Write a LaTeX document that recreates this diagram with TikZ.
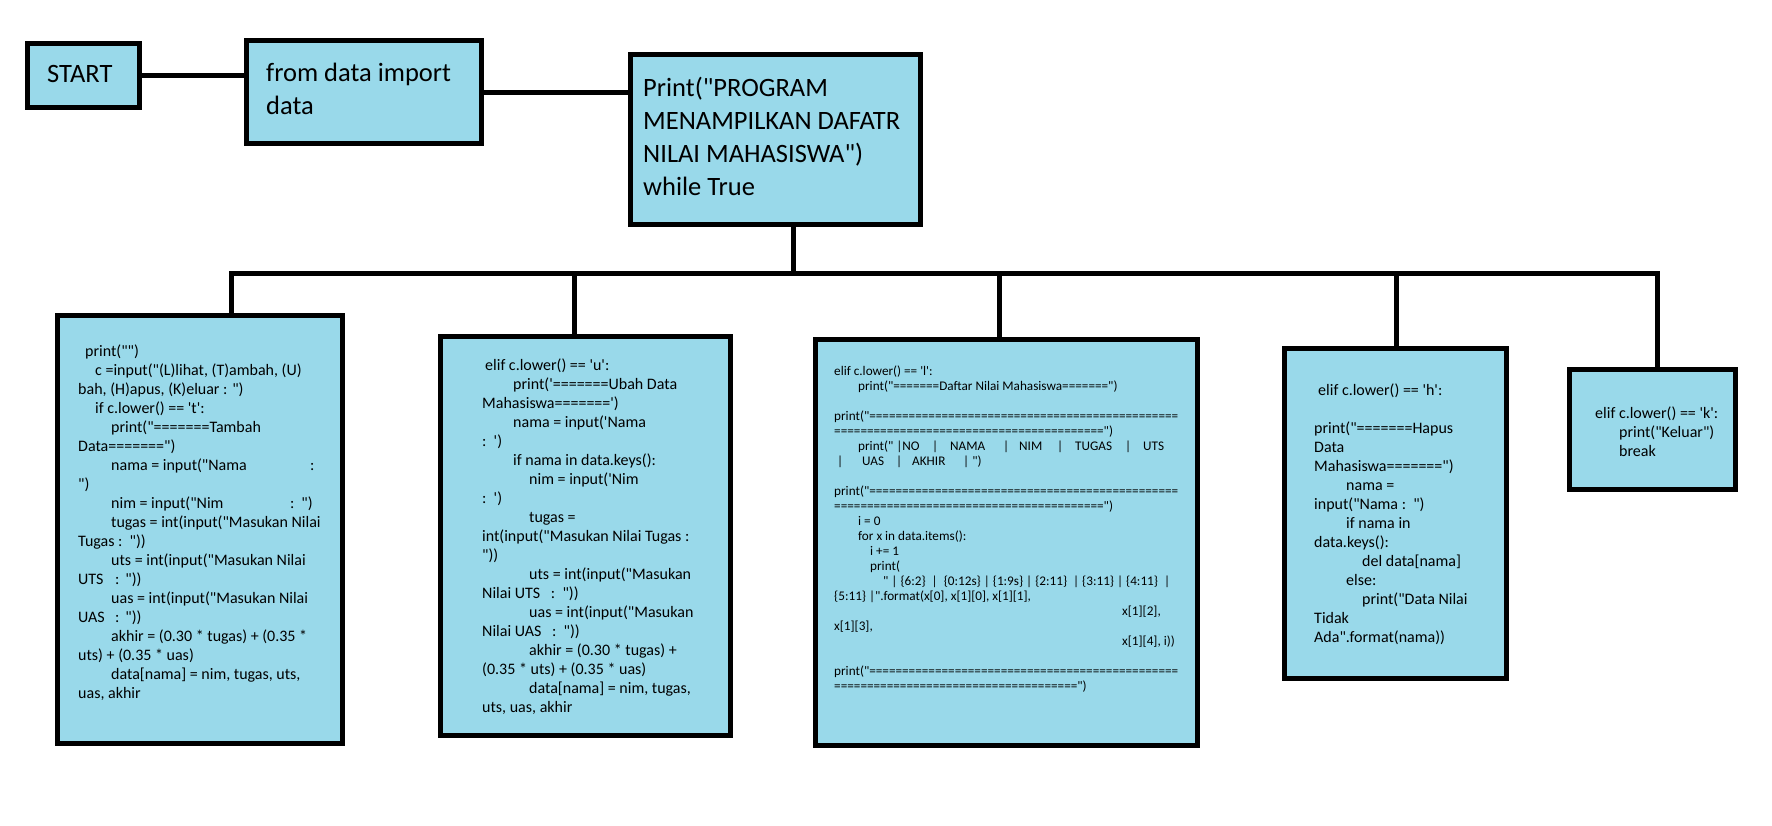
\documentclass[tikz,border=0pt]{standalone}
\usepackage{fontspec}
\newfontfamily\codefont{Carlito}
\definecolor{paintblue}{RGB}{153,217,234}
\newcommand\tabat[2]{\makebox[0pt][l]{\hspace*{#1}#2}}
\newcommand\eqrun[1]{\foreach \k in {1,...,#1}{=}}

\begin{document}
\begin{tikzpicture}[x=1pt,y=-1pt,
    box/.style={draw=black,line width=5pt,fill=paintblue,inner sep=0pt},
    link/.style={line width=5pt},
    head/.style={anchor=north west,inner sep=0pt,align=left,font=\codefont\fontsize{26.5}{33}\selectfont},
    code/.style={anchor=north west,inner sep=0pt,align=left,font=\codefont\fontsize{16}{19}\selectfont},
    small/.style={code,font=\codefont\fontsize{13.2}{15}\selectfont}]
\useasboundingbox (0,0) rectangle (1772,825);

\node[box,minimum width=112.5pt,minimum height=64.5pt] (start) at (83.25,75.25) {};
\node[box,minimum width=235pt,minimum height=103pt] (from) at (364,92) {};
\node[box,minimum width=290pt,minimum height=170pt] (print) at (775.5,139.5) {};
\node[box,minimum width=285pt,minimum height=428pt] (b1) at (200,529.5) {};
\node[box,minimum width=290pt,minimum height=399.5pt] (b2) at (585.5,535.75) {};
\node[box,minimum width=382pt,minimum height=406.5pt] (b3) at (1006,542.25) {};
\node[box,minimum width=222.5pt,minimum height=329.5pt] (b4) at (1395.25,513.25) {};
\node[box,minimum width=165.5pt,minimum height=120pt] (b5) at (1652.25,429.5) {};

\node[head] (starttext) at (47,59.6) {\strut START};
\node[head] (fromtext) at (266,58.6) {\strut from data import\\data};
\node[head] (printtext) at (643,73.6) {\strut Print("PROGRAM\\MENAMPILKAN DAFATR\\NILAI MAHASISWA")\\while True};

\node[code] (t1) at (78,343.4) {\strut\hspace*{7pt}print("")\\
\hspace*{17pt}c =input("(L)lihat, (T)ambah, (U)\\
bah, (H)apus, (K)eluar : ")\\
\hspace*{17pt}if c.lower() == 't':\\
\hspace*{33pt}print("=======Tambah\\
Data=======")\\
\hspace*{33pt}\makebox[199pt][l]{nama = input("Nama}:\\
")\\
\hspace*{33pt}\makebox[179pt][l]{nim = input("Nim}:\hspace*{7pt}")\\
\hspace*{33pt}tugas = int(input("Masukan Nilai\\
Tugas :\ \ "))\\
\hspace*{33pt}uts = int(input("Masukan Nilai\\
\makebox[37pt][l]{UTS}:\hspace*{6pt}"))\\
\hspace*{33pt}uas = int(input("Masukan Nilai\\
\makebox[37pt][l]{UAS}:\hspace*{6pt}"))\\
\hspace*{33pt}akhir = (0.30 * tugas) + (0.35 *\\
uts) + (0.35 * uas)\\
\hspace*{33pt}data[nama] = nim, tugas, uts,\\
uas, akhir};

\node[code] (t2) at (482,356.7) {\strut\hspace*{3pt}elif c.lower() == 'u':\\
\hspace*{31pt}print('=======Ubah Data\\
Mahasiswa=======')\\
\hspace*{31pt}nama = input('Nama\\
:\ \ ')\\
\hspace*{31pt}if nama in data.keys():\\
\hspace*{47pt}nim = input('Nim\\
:\ \ ')\\
\hspace*{47pt}tugas =\\
int(input("Masukan Nilai Tugas :\\
"))\\
\hspace*{47pt}uts = int(input("Masukan\\
Nilai UTS\ \ \ :\ \ "))\\
\hspace*{47pt}uas = int(input("Masukan\\
Nilai UAS\ \ \ :\ \ "))\\
\hspace*{47pt}akhir = (0.30 * tugas) +\\
(0.35 * uts) + (0.35 * uas)\\
\hspace*{47pt}data[nama] = nim, tugas,\\
uts, uas, akhir};

\node[small] (t3) at (834,364.5) {\strut elif c.lower() == 'l':\\
\hspace*{24pt}print("=======Daftar Nilai Mahasiswa=======")\\[15pt]
print("\eqrun{47}\\
\eqrun{41}")\\
\tabat{24pt}{print(" |NO}\tabat{98pt}{|}\tabat{116pt}{NAMA}\tabat{169pt}{|}\tabat{185pt}{NIM}\tabat{223pt}{|}\tabat{241pt}{TUGAS}\tabat{291pt}{|}\tabat{309pt}{UTS}\\
\tabat{3pt}{|}\tabat{28pt}{UAS}\tabat{62pt}{|}\tabat{78pt}{AKHIR}\tabat{129pt}{| ")}\\[15pt]
print("\eqrun{47}\\
\eqrun{41}")\\
\hspace*{24pt}i = 0\\
\hspace*{24pt}for x in data.items():\\
\hspace*{36pt}i += 1\\
\hspace*{36pt}print(\\
\hspace*{49pt}" | \{6:2\}\ \ |\ \ \{0:12s\} | \{1:9s\} | \{2:11\}\ \ | \{3:11\} | \{4:11\}\ \ |\\
\{5:11\} |".format(x[0], x[1][0], x[1][1],\\
\hspace*{288pt}x[1][2],\\
x[1][3],\\
\hspace*{288pt}x[1][4], i))\\[15pt]
print("\eqrun{47}\\
\eqrun{37}")};

\node[code] (t4) at (1314,381.7) {\strut\hspace*{4pt}elif c.lower() == 'h':\\[19pt]
print("=======Hapus\\
Data\\
Mahasiswa=======")\\
\hspace*{32pt}nama =\\
input("Nama :\ \ ")\\
\hspace*{32pt}if nama in\\
data.keys():\\
\hspace*{48pt}del data[nama]\\
\hspace*{32pt}else:\\
\hspace*{48pt}print("Data Nilai\\
Tidak\\
Ada".format(nama))};

\node[code] (t5) at (1595,404.7) {\strut elif c.lower() == 'k':\\
\hspace*{24pt}print("Keluar")\\
\hspace*{24pt}break};

\coordinate (jtop) at (793,273.5);
\coordinate (j1) at (231,273.5);
\coordinate (j2) at (574,273.5);
\coordinate (j3) at (999,273.5);
\coordinate (j4) at (1396,273.5);
\coordinate (j5) at (1657,273.5);

\draw[link] (start.east) -- (start.east -| from.west);
\draw[link] (from.east) -- (from.east -| print.west);
\draw[link] (jtop |- print.south) -- (jtop);
\draw[link] (j1 |- b1.north) -- (j1) -- (j5) -- (j5 |- b5.north);
\draw[link] (j2) -- (j2 |- b2.north);
\draw[link] (j3) -- (j3 |- b3.north);
\draw[link] (j4) -- (j4 |- b4.north);
\end{tikzpicture}
\end{document}
